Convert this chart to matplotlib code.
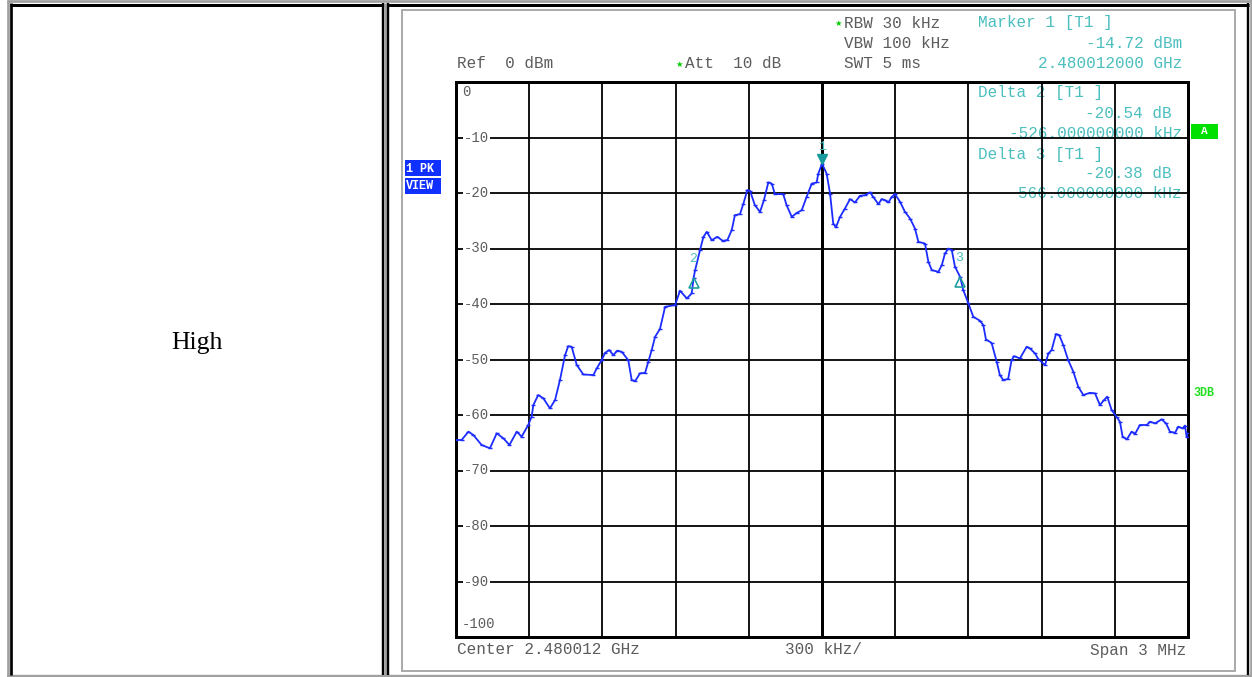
"""
Spectrum analyzer screenshot of the high channel, laid out in a two-cell table.
"""

import matplotlib.pyplot as plt
from matplotlib.patches import Rectangle
from matplotlib.transforms import offset_copy

# trace read out as frequency offset from center (kHz) and level (dBm)
freq_khz = [
    -1500, -1477, -1449, -1429, -1395, -1361, -1333, -1306, -1281, -1251,
    -1231, -1204, -1190, -1183, -1163, -1142, -1115, -1094, -1074, -1053,
    -1040, -1026, -1005, -978, -937, -923, -903, -889, -872, -855,
    -839, -821, -794, -780, -766, -746, -725, -712, -698, -684,
    -664, -643, -602, -582, -554, -534, -526, -520, -500, -486,
    -472, -452, -429, -407, -388, -370, -357, -336, -322, -306,
    -295, -275, -254, -238, -220, -206, -193, -159, -145, -124,
    -104, -83, -63, -42, -22, -15, 0, 19, 33, 46,
    57, 74, 94, 115, 135, 156, 176, 197, 210, 231,
    245, 258, 272, 286, 299, 320, 340, 361, 381, 395,
    422, 436, 450, 477, 491, 504, 518, 532, 545, 566,
    579, 600, 620, 647, 661, 672, 695, 716, 729, 743,
    763, 777, 787, 811, 839, 852, 873, 886, 914, 928,
    941, 959, 972, 989, 1009, 1030, 1050, 1071, 1098, 1119,
    1139, 1156, 1169, 1187, 1208, 1221, 1232, 1249, 1269, 1283,
    1303, 1331, 1344, 1365, 1392, 1410, 1426, 1447, 1460, 1478,
    1488, 1494, 1500,
]
level_dbm = [
    -64.5, -64.5, -63.0, -63.6, -65.4, -66.0, -63.3, -64.2, -65.4, -63.0,
    -63.9, -61.8, -60.3, -58.2, -56.4, -57.0, -58.8, -57.3, -53.7, -49.2,
    -47.6, -47.7, -51.0, -52.7, -52.8, -51.6, -50.1, -48.8, -48.3, -49.2,
    -48.4, -48.6, -50.1, -53.7, -53.9, -52.5, -52.4, -50.4, -48.3, -45.9,
    -44.5, -40.5, -40.2, -37.6, -39.0, -38.1, -35.26, -33.9, -30.3, -27.9,
    -27.0, -28.5, -27.9, -28.6, -28.5, -26.7, -24.0, -23.8, -21.9, -19.5,
    -19.6, -22.2, -23.4, -21.3, -18.1, -18.3, -20.2, -20.2, -22.2, -24.3,
    -23.6, -23.1, -20.7, -18.3, -18.1, -16.5, -14.72, -16.5, -20.1, -25.5,
    -26.2, -24.3, -22.8, -21.1, -21.7, -20.5, -20.4, -19.9, -20.7, -22.0,
    -21.1, -21.3, -21.7, -20.7, -20.2, -21.6, -23.4, -24.6, -26.4, -28.8,
    -29.1, -32.4, -33.9, -34.2, -33.0, -30.9, -30.0, -30.3, -33.3, -35.10,
    -37.5, -39.9, -42.3, -43.0, -43.8, -46.4, -47.0, -50.4, -52.8, -53.7,
    -53.5, -50.1, -49.4, -49.8, -47.7, -48.0, -48.9, -49.9, -51.0, -48.9,
    -48.3, -45.4, -45.6, -47.4, -50.1, -52.2, -54.9, -56.4, -56.0, -56.1,
    -58.2, -57.3, -56.7, -59.1, -60.4, -61.2, -63.9, -64.4, -63.0, -63.4,
    -61.8, -61.8, -61.2, -61.5, -60.8, -61.5, -63.0, -63.2, -62.1, -62.4,
    -61.9, -63.9, -63.3,
]

# marker 1 is absolute, markers 2 and 3 are deltas against marker 1
marker1_khz = 0
marker1_dbm = -14.72
delta_khz = [-526, 566]
delta_db = [-20.54, -20.38]

y_ticks = [0, -10, -20, -30, -40, -50, -60, -70, -80, -90, -100]
x_ticks = [-1500, -1200, -900, -600, -300, 0, 300, 600, 900, 1200, 1500]

W, H = 1252, 677
MONO = "Liberation Mono"
GREY = "#5c5c5c"
TEAL = "#4cbebe"
MARK = "#1a9c9c"
TRACE = "#1c2cff"


def px(w):
    """pixel width -> points at 100 dpi"""
    return w * 0.72


fig = plt.figure(figsize=(W / 100, H / 100), dpi=100)

# background layer in pixel coordinates for the table and screen annotations
bg = fig.add_axes([0, 0, 1, 1])
bg.set_xlim(0, W)
bg.set_ylim(H, 0)
bg.axis("off")


def hline(y, x0, x1, color, w):
    bg.plot([x0, x1], [y, y], color=color, lw=px(w), solid_capstyle="butt")


def vline(x, y0, y1, color, w):
    bg.plot([x, x], [y0, y1], color=color, lw=px(w), solid_capstyle="butt")


# table frame
hline(1.3, 7, W, "#a0a0a0", 2.7)
vline(8, 0, H, "#a0a0a0", 2.7)
hline(676, 7, W, "#a0a0a0", 2.4)
vline(1250.7, 0, H, "#a0a0a0", 2.6)
hline(4.6, 9.5, 384, "black", 3)
vline(10.7, 3, 675, "black", 2.7)
vline(382.8, 3, 675, "black", 2.4)
vline(385.4, 3, 675, "#a0a0a0", 2.6)
hline(4.6, 386.5, 1249, "black", 3)
vline(387.9, 3, 675, "black", 2.4)
vline(1247.6, 3, 675, "black", 2.4)

# screenshot frame
bg.add_patch(Rectangle((402, 10), 833, 661, fill=False, ec="#ababab", lw=px(2)))

bg.text(197, 343, "High", family="Liberation Serif", fontsize=18.5,
        ha="center", va="center", color="black")

# header
hdr = dict(family=MONO, fontsize=11.5, va="center")
bg.text(838, 23, "\u2605", color="#00cc00", fontsize=6, ha="center", va="center")
bg.text(844, 23, "RBW 30 kHz", color=GREY, ha="left", **hdr)
bg.text(978, 23, "Marker 1 [T1 ]", color=TEAL, ha="left", **hdr)
bg.text(844, 43, "VBW 100 kHz", color=GREY, ha="left", **hdr)
bg.text(1182, 43, f"{marker1_dbm:.2f} dBm", color=TEAL, ha="right", **hdr)
bg.text(457, 63, "Ref  0 dBm", color=GREY, ha="left", **hdr)
bg.text(679, 64, "\u2605", color="#00cc00", fontsize=6, ha="center", va="center")
bg.text(685, 63, "Att  10 dB", color=GREY, ha="left", **hdr)
bg.text(844, 63, "SWT 5 ms", color=GREY, ha="left", **hdr)
bg.text(1182, 63, "2.480012000 GHz", color=TEAL, ha="right", **hdr)

# footer
bg.text(457, 650, "Center 2.480012 GHz", color=GREY, ha="left", **hdr)
bg.text(785, 650, "300 kHz/", color=GREY, ha="left", **hdr)
bg.text(1186, 650, "Span 3 MHz", color=GREY, ha="right", **hdr)

# side labels
for top, label in [(160, "1 PK"), (177.5, "VIEW")]:
    box = Rectangle((405, top), 36, 16, color="#1030ff", lw=0)
    bg.add_patch(box)
    t = bg.text(406, top + 8.5, label, family=MONO, fontsize=8.5, weight="bold",
                color="white", ha="left", va="center")
    t.set_clip_path(box)
bg.add_patch(Rectangle((1191, 124), 27, 15, color="#00e000", lw=0))
bg.text(1204.5, 131.5, "A", family=MONO, fontsize=8, weight="bold",
        color="white", ha="center", va="center")
bg.text(1193, 393, "3DB", family=MONO, fontsize=8.5, weight="bold",
        color="#22dd22", ha="left", va="center")

# measurement grid
ax = fig.add_axes([456 / W, (H - 637) / H, 732 / W, 555 / H])
ax.set_xlim(x_ticks[0], x_ticks[-1])
ax.set_ylim(y_ticks[-1], y_ticks[0])
ax.set_xticks(x_ticks)
ax.set_yticks(y_ticks)
ax.tick_params(length=0, labelbottom=False, labelleft=False)
ax.grid(True, color="black", lw=px(1.8))
ax.axvline(0, color="black", lw=px(3))
for s in ax.spines.values():
    s.set_linewidth(px(3))
ax.set_facecolor("none")

ytr = ax.get_yaxis_transform()
for v in y_ticks[1:-1]:
    ax.text(0.011, v, f"-{abs(v)}", transform=ytr, family=MONO, fontsize=10,
            color=GREY, ha="left", va="center",
            bbox=dict(fc="white", ec="none", pad=0.6))
ax.text(0.008, -1.8, "0", transform=ytr, family=MONO, fontsize=10,
        color=GREY, ha="left", va="center")
ax.text(0.008, -97.6, "-100", transform=ytr, family=MONO, fontsize=10,
        color=GREY, ha="left", va="center")

ax.plot(freq_khz, level_dbm, color=TRACE, lw=px(1.8), marker="_", ms=3.2,
        mew=px(1.4), zorder=3)

# markers
down = offset_copy(ax.transData, fig=fig, x=0, y=5, units="dots")
up = offset_copy(ax.transData, fig=fig, x=0, y=-5, units="dots")
ax.plot(marker1_khz, marker1_dbm, marker="v", ms=7.5, color=MARK,
        mec=MARK, transform=down, zorder=4, clip_on=False)
ax.text(marker1_khz, marker1_dbm + 3.0, "1", family=MONO, fontsize=9.5,
        color=TEAL, ha="center", va="center")
for i, (f, d) in enumerate(zip(delta_khz, delta_db)):
    lvl = marker1_dbm + d
    ax.plot(f, lvl, marker="^", ms=7.5, mfc="none", mec=MARK, mew=px(1.6),
            transform=up, zorder=4)
    ax.text(f - 4, lvl + 3.4, str(i + 2), family=MONO, fontsize=9.5,
            color=TEAL, ha="center", va="center")

# delta readouts drawn over the grid
ro = dict(family=MONO, fontsize=11.5, color=TEAL, va="center")
rows = [93, 154]
for i, (f, d) in enumerate(zip(delta_khz, delta_db)):
    y0 = rows[i]
    bg.text(978, y0, f"Delta {i + 2} [T1 ]", ha="left", **ro)
    bg.text(1172, y0 + 20, f"{d:.2f} dB", ha="right", **ro)
    bg.text(1182, y0 + 40, f"{f:.9f} kHz", ha="right", **ro)

fig.savefig("out.png", dpi=100)
